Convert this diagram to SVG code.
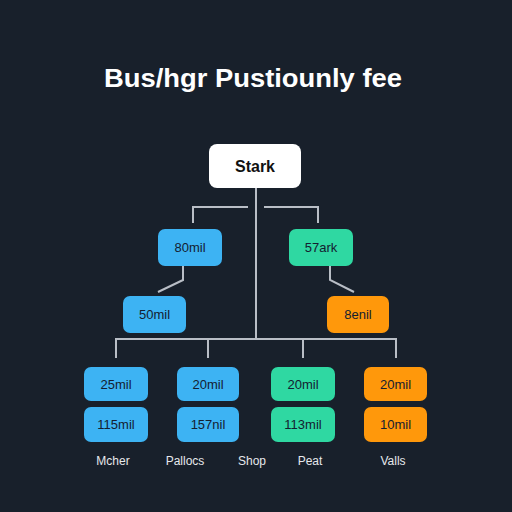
<svg xmlns="http://www.w3.org/2000/svg" width="512" height="512" viewBox="0 0 512 512">
<style>
.bg{fill:#18202b}
.title{font-family:"Liberation Sans",Arial,sans-serif;font-weight:bold;font-size:25px;fill:#ffffff}
.ln{stroke:#b9bec6;stroke-width:2;fill:none}
.blue{fill:#3db3f3}
.green{fill:#2fd8a2}
.orange{fill:#ff980b}
.root{fill:#ffffff}
.nt{font-family:"Liberation Sans",Arial,sans-serif;font-size:13px;fill:#142030;text-anchor:middle;dominant-baseline:central}
.rt{font-family:"Liberation Sans",Arial,sans-serif;font-size:16px;font-weight:bold;fill:#111;text-anchor:middle;dominant-baseline:central}
.lb{font-family:"Liberation Sans",Arial,sans-serif;font-size:12px;fill:#e6e8ec;text-anchor:middle;dominant-baseline:central}
</style>
<rect class="bg" x="0" y="0" width="512" height="512"/>
<text class="title" x="253" y="87" text-anchor="middle" textLength="298" lengthAdjust="spacingAndGlyphs">Bus/hgr Pustiounly fee</text>
<g id="connectors">
<path class="ln" d="M256 188 V339"/>
<path class="ln" d="M248 207 H193 V223"/>
<path class="ln" d="M264 207 H318 V223"/>
<path class="ln" d="M183 266 V280 L158 292"/>
<path class="ln" d="M330 266 V280 L354 292"/>
<path class="ln" d="M116 358 V339 H396 V358"/>
<path class="ln" d="M208 339 V358"/>
<path class="ln" d="M303 339 V358"/>
</g>
<g id="root"><rect class="root" x="209" y="144" width="92" height="44" rx="8"/><text class="rt" x="255" y="166">Stark</text></g>
<g id="n80"><rect class="blue" x="158" y="229" width="64" height="37" rx="7"/><text class="nt" x="190" y="247.5">80mil</text></g>
<g id="n57"><rect class="green" x="289" y="229" width="64" height="37" rx="7"/><text class="nt" x="321" y="247.5">57ark</text></g>
<g id="n50"><rect class="blue" x="123" y="296" width="63" height="37" rx="7"/><text class="nt" x="154.5" y="314.5">50mil</text></g>
<g id="n8e"><rect class="orange" x="327" y="296" width="62" height="37" rx="7"/><text class="nt" x="358" y="314.5">8enil</text></g>
<g id="c1a"><rect class="blue" x="84" y="367" width="64" height="34" rx="7"/><text class="nt" x="116" y="384">25mil</text></g>
<g id="c1b"><rect class="blue" x="84" y="407" width="64" height="35" rx="7"/><text class="nt" x="116" y="424.5">115mil</text></g>
<g id="c2a"><rect class="blue" x="177" y="367" width="62" height="34" rx="7"/><text class="nt" x="208" y="384">20mil</text></g>
<g id="c2b"><rect class="blue" x="177" y="407" width="62" height="35" rx="7"/><text class="nt" x="208" y="424.5">157nil</text></g>
<g id="c3a"><rect class="green" x="271" y="367" width="64" height="34" rx="7"/><text class="nt" x="303" y="384">20mil</text></g>
<g id="c3b"><rect class="green" x="271" y="407" width="64" height="35" rx="7"/><text class="nt" x="303" y="424.5">113mil</text></g>
<g id="c4a"><rect class="orange" x="364" y="367" width="63" height="34" rx="7"/><text class="nt" x="395.5" y="384">20mil</text></g>
<g id="c4b"><rect class="orange" x="364" y="407" width="63" height="35" rx="7"/><text class="nt" x="395.5" y="424.5">10mil</text></g>
<g id="labels">
<text class="lb" x="113" y="461">Mcher</text>
<text class="lb" x="185" y="461">Pallocs</text>
<text class="lb" x="252" y="461">Shop</text>
<text class="lb" x="310" y="461">Peat</text>
<text class="lb" x="393" y="461">Valls</text>
</g>
</svg>
